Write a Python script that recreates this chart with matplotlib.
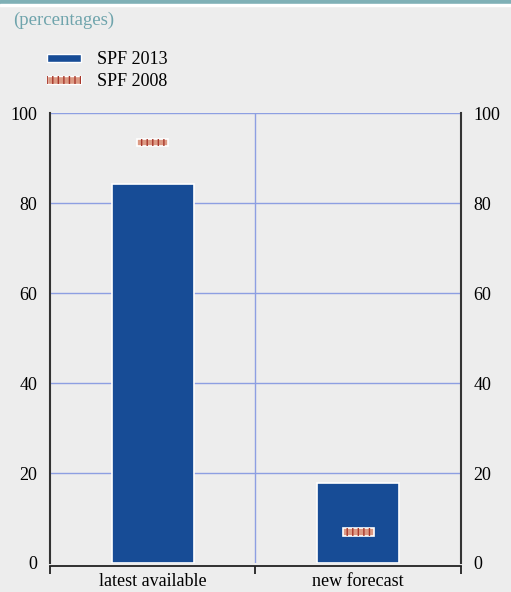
import matplotlib.pyplot as plt
from matplotlib.patches import Patch
from matplotlib.legend_handler import HandlerTuple

# data
categories = ['latest available', 'new forecast']
spf2013 = [84.3, 17.8]
spf2008 = [93.4, 6.9]

plt.rcParams['font.family'] = ['Liberation Serif', 'DejaVu Serif']
plt.rcParams['hatch.linewidth'] = 1.0

bg = '#ededed'
blue = '#174c96'
salmon = '#dc9a84'
darkred = '#a8382c'
grid_c = '#8d9fe2'

fig = plt.figure(figsize=(5.11, 5.92), dpi=100, facecolor=bg)
ax = fig.add_axes([0.0978, 0.049, 0.8043, 0.760], facecolor=bg)

# top band
fig.patches.append(plt.Rectangle((0, 1 - 4 / 592), 1, 4 / 592, transform=fig.transFigure,
                                 color='#7fb0b6', zorder=0))
fig.patches.append(plt.Rectangle((0, 1 - 6 / 592), 1, 2 / 592, transform=fig.transFigure,
                                 color='white', zorder=0))
fig.text(13 / 511, 1 - 20 / 592, '(percentages)', color='#6fa4ac', fontsize=13.5, va='center')

x = list(range(len(categories)))
ax.bar(x, spf2013, width=0.4, color=blue, edgecolor='white', linewidth=1.2, zorder=3)

mh = 1.6
mbottom = [v - mh / 2 for v in spf2008]
ax.bar(x, [mh] * len(x), bottom=mbottom, width=0.15, color=salmon, edgecolor='white',
       linewidth=1.2, zorder=4)
ax.bar(x, [mh] * len(x), bottom=mbottom, width=0.15, color='none', edgecolor=darkred,
       hatch='|||', linewidth=0, zorder=5)

ax.set_xlim(-0.5, 1.5)
ax.set_ylim(0, 100)

# grid
ax.set_yticks([0, 20, 40, 60, 80, 100])
for v in [20, 40, 60, 80, 100]:
    ax.axhline(v, color=grid_c, lw=1, zorder=1)
ax.axvline(0.5, color=grid_c, lw=1, zorder=1)

ax.spines['top'].set_visible(False)
for s in ['left', 'right']:
    ax.spines[s].set_color('#333333')
    ax.spines[s].set_linewidth(1.5)
ax.spines['bottom'].set_color('#222222')
ax.spines['bottom'].set_linewidth(1.3)
ax.spines['bottom'].set_position(('outward', 2))

ax.tick_params(axis='y', length=0, pad=9, labelsize=13, labelright=True, right=False)
ax.set_xticks(x)
ax.set_xticklabels(categories, fontsize=13)
ax.set_xticks([-0.5, 0.5, 1.5], minor=True)
ax.tick_params(axis='x', which='major', length=0, pad=5)
ax.tick_params(axis='x', which='minor', length=6, width=1.3, direction='out', color='#222222')

h1 = Patch(facecolor=blue, edgecolor='white', linewidth=1)
h2a = Patch(facecolor=salmon, edgecolor='white', linewidth=1)
h2b = Patch(facecolor='none', edgecolor=darkred, hatch='|||', linewidth=0)
fig.legend([h1, (h2a, h2b)], ['SPF 2013', 'SPF 2008'],
           handler_map={tuple: HandlerTuple(ndivide=1)},
           loc='upper left', bbox_to_anchor=(31 / 511, 1 - 35 / 592),
           frameon=False, fontsize=13, handlelength=1.85, handleheight=0.3,
           handletextpad=0.9, labelspacing=0.28)

fig.savefig('out.png', dpi=100, facecolor=bg)
